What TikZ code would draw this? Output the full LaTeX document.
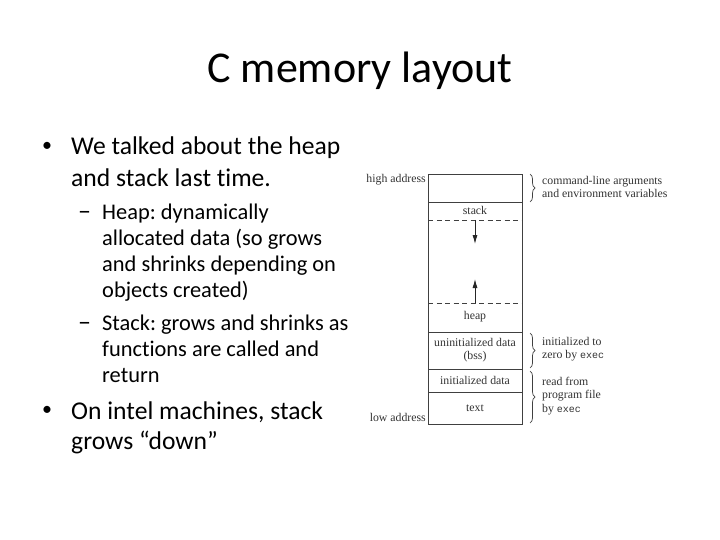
\documentclass[tikz,border=0pt]{standalone}
\usepackage{fontspec}
\setmainfont{Carlito}[Ligatures={NoCommon}]
\newfontfamily\diagfont{Liberation Serif}
\newfontfamily\diagmono{Liberation Mono}
\usetikzlibrary{arrows.meta,decorations.pathreplacing}
\frenchspacing
\begin{document}
\begin{tikzpicture}[x=1pt,y=-1pt,
  titletext/.style={anchor=base, inner sep=0pt, font=\fontsize{44}{52}\selectfont},
  lvlone/.style={anchor=base west, inner sep=0pt, font=\fontsize{25.6}{30}\selectfont},
  lvltwo/.style={anchor=base west, inner sep=0pt, font=\fontsize{22.4}{26}\selectfont},
  bulletmark/.style={anchor=center, inner sep=0pt, font=\fontsize{20}{24}\selectfont},
  dashmark/.style={anchor=base west, inner sep=0pt, font=\fontsize{26}{30}\selectfont},
  diag/.style={inner sep=0pt, text=black!80, font=\diagfont\fontsize{11.8}{13.2}\selectfont},
  boxline/.style={draw=black!75, line width=0.9pt},
  dashline/.style={draw=black!75, line width=0.9pt, dash pattern=on 5pt off 3.5pt},
  growarrow/.style={draw=black!85, line width=0.8pt, -{Latex[length=9pt,width=5pt]}},
  bracestyle/.style={draw=black!75, line width=0.7pt, decorate, decoration={brace, amplitude=5pt}}
]
\useasboundingbox (0,0) rectangle (720,540);
\fill[white] (0,0) rectangle (720,540);

% title
\node[titletext] (title) at (360,83) {C memory layout};

% bullet 1
\node[bulletmark] (b1) at (47,147) {•};
\node[lvlone] (t1a) at (71,155) {We talked about the heap};
\node[lvlone] (t1b) at (71,187) {and stack last time.};

% sub bullet heap
\node[dashmark] (d1) at (78,219) {–};
\node[lvltwo] (s1a) at (102,219) {Heap: dynamically};
\node[lvltwo] (s1b) at (102,245) {allocated data (so grows};
\node[lvltwo] (s1c) at (102,271) {and shrinks depending on};
\node[lvltwo] (s1d) at (102,297) {objects created)};

% sub bullet stack
\node[dashmark] (d2) at (78,330) {–};
\node[lvltwo] (s2a) at (102,330) {Stack: grows and shrinks as};
\node[lvltwo] (s2b) at (102,356) {functions are called and};
\node[lvltwo] (s2c) at (102,382) {return};

% bullet 2
\node[bulletmark] (b2) at (47,411) {•};
\node[lvlone] (t2a) at (71,419) {On intel machines, stack};
\node[lvlone] (t2b) at (71,449) {grows “down”};

% memory box
\draw[boxline] (428,174) rectangle (522,424);
\draw[boxline] (428,202) -- (522,202);
\draw[dashline] (428,220) -- (522,220);
\draw[dashline] (428,303) -- (522,303);
\draw[boxline] (428,332) -- (522,332);
\draw[boxline] (428,369) -- (522,369);
\draw[boxline] (428,392) -- (522,392);

\node[diag] (stack) at (475,210) {stack};
\node[diag] (heap) at (475,317) {heap};
\node[diag, align=center] (bss) at (475,350) {uninitialized data\\(bss)};
\node[diag] (init) at (475,380) {initialized data};
\node[diag] (txt) at (475,408) {text};
\node[diag, anchor=east] (high) at (426,180) {high address};
\node[diag, anchor=east] (low) at (426,417) {low address};

\coordinate (sd0) at (475,220);
\coordinate (sd1) at (475,244);
\coordinate (hu0) at (475,303);
\coordinate (hu1) at (475,279);
\draw[growarrow] (sd0) -- (sd1);
\draw[growarrow] (hu0) -- (hu1);

% braces
\coordinate (br1a) at (530,174);
\coordinate (br1b) at (530,202);
\coordinate (br2a) at (530,333);
\coordinate (br2b) at (530,368);
\coordinate (br3a) at (530,371);
\coordinate (br3b) at (530,423);
\draw[bracestyle] (br1a) -- (br1b);
\draw[bracestyle] (br2a) -- (br2b);
\draw[bracestyle] (br3a) -- (br3b);

\node[diag, anchor=west, align=left] (cmd) at (542,187) {command-line arguments\\and environment variables};
\node[diag, anchor=west, align=left] (zero) at (542,349) {initialized to\\zero by {\diagmono\fontsize{10}{13.2}\selectfont exec}};
\node[diag, anchor=west, align=left] (read) at (542,396) {read from\\program file\\by {\diagmono\fontsize{10}{13.2}\selectfont exec}};
\end{tikzpicture}
\end{document}
